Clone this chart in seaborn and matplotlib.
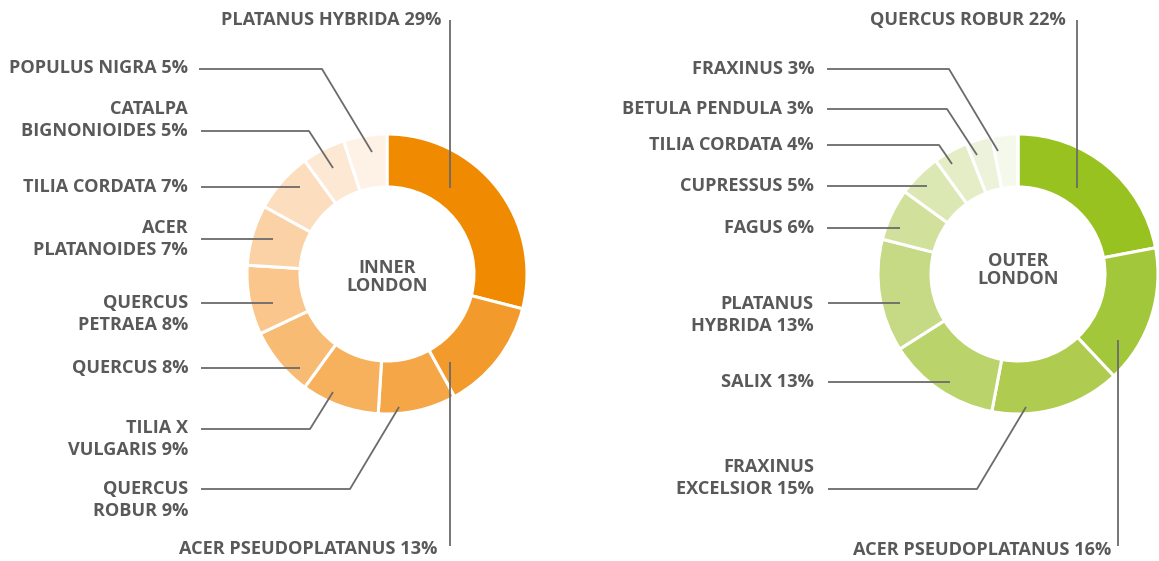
import matplotlib
matplotlib.use('Agg')
import matplotlib.pyplot as plt
import seaborn as sns

# Data: tree species share in London (percent)
inner_names = ['PLATANUS HYBRIDA', 'ACER PSEUDOPLATANUS', 'QUERCUS\nROBUR', 'TILIA X\nVULGARIS',
               'QUERCUS', 'QUERCUS\nPETRAEA', 'ACER\nPLATANOIDES', 'TILIA CORDATA',
               'CATALPA\nBIGNONIOIDES', 'POPULUS NIGRA']
inner_pct = [29, 13, 9, 9, 8, 8, 7, 7, 5, 5]

outer_names = ['QUERCUS ROBUR', 'ACER PSEUDOPLATANUS', 'FRAXINUS\nEXCELSIOR', 'SALIX',
               'PLATANUS\nHYBRIDA', 'FAGUS', 'CUPRESSUS', 'TILIA CORDATA',
               'BETULA PENDULA', 'FRAXINUS']
outer_pct = [22, 16, 15, 13, 13, 6, 5, 4, 3, 3]

inner_colors = ['#F08A00', '#F39A2C', '#F5A646', '#F7B05C', '#F8BB74',
                '#FAC68C', '#FBD2A5', '#FCDDBD', '#FDE8D3', '#FEF2E7']
outer_colors = ['#98C21F', '#A3C73A', '#AFCC50', '#BAD36B', '#C6DA85',
                '#D1E19B', '#DCE8B3', '#E4EDC6', '#EDF3DA', '#F5F9EC']

W, H = 1159, 561
TEXT = '#595959'
LINE = '#6b6b6b'
FS = 13.1

sns.set_theme(style='white')
plt.rcParams['font.family'] = ['Open Sans', 'DejaVu Sans']

fig = plt.figure(figsize=(W / 100, H / 100), dpi=100)
ax = fig.add_axes([0, 0, 1, 1])

# label layout in image pixels: (text x, text y, leader points)
inner_layout = [
    (441, 20, [(450, 20), (450, 188)]),
    (437, 549, [(450, 546), (450, 362)]),
    (188, 500, [(201, 489), (350, 489), (399, 407)]),
    (188, 439, [(201, 429), (310, 429), (333, 392)]),
    (188, 368, [(201, 368), (300, 368)]),
    (188, 314, [(201, 303), (273, 303)]),
    (188, 239, [(201, 239), (273, 239)]),
    (188, 187, [(201, 187), (300, 187)]),
    (188, 120, [(201, 131), (309, 131), (333, 168)]),
    (188, 68, [(199, 69), (322, 69), (372, 152)]),
]
outer_layout = [
    (1066, 20, [(1077, 20), (1077, 188)]),
    (1111, 550, [(1118, 546), (1118, 340)]),
    (814, 478, [(828, 489), (977, 489), (1026, 407)]),
    (814, 382, [(828, 382), (950, 382)]),
    (814, 315, [(828, 303), (900, 303)]),
    (814, 228, [(827, 228), (900, 228)]),
    (814, 186, [(827, 186), (927, 186)]),
    (814, 145, [(827, 145), (939, 145), (952, 164)]),
    (814, 109, [(827, 109), (947, 109), (977, 155)]),
    (814, 69, [(827, 69), (949, 69), (998, 151)]),
]


def donut(cx, cy, pct, names, colors, layout, title, ty):
    ax.pie(pct, colors=colors, center=(cx, H - cy), radius=140, startangle=90,
           counterclock=False,
           wedgeprops=dict(width=53, edgecolor='white', linewidth=2.2))
    for name, p, (tx, tyl, pts) in zip(names, pct, layout):
        xs = [q[0] for q in pts]
        ys = [H - q[1] for q in pts]
        ax.plot(xs, ys, color=LINE, lw=1.3, solid_capstyle='butt', zorder=5)
        ax.text(tx, H - tyl, f'{name} {p}%', ha='right', va='center', ma='right',
                fontsize=FS, fontweight='bold', color=TEXT, linespacing=1.3)
    ax.text(cx, H - ty, title, ha='center', va='center', ma='center',
            fontsize=FS, fontweight='bold', color=TEXT, linespacing=1.0)


donut(387, 274, inner_pct, inner_names, inner_colors, inner_layout, 'INNER\nLONDON', 277)
donut(1018, 274, outer_pct, outer_names, outer_colors, outer_layout, 'OUTER\nLONDON', 270)

ax.set_xlim(0, W)
ax.set_ylim(0, H)
ax.set_aspect('equal')
ax.axis('off')

fig.savefig('out.png', dpi=100, facecolor='white')
